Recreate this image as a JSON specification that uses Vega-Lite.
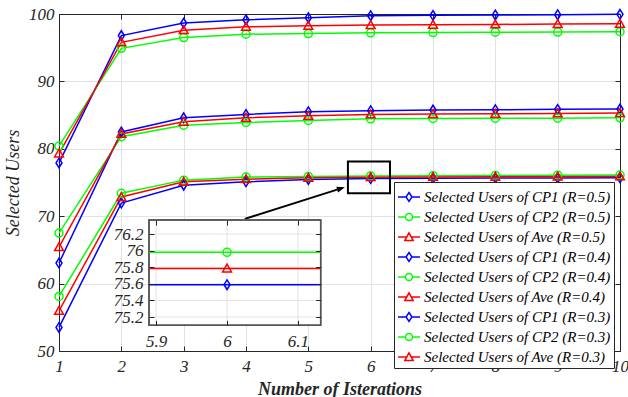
{
  "$schema": "https://vega.github.io/schema/vega-lite/v6.json",
  "width": 561,
  "height": 337,
  "autosize": {"type": "none"},
  "padding": {"left": 59, "top": 14, "right": 8, "bottom": 46},
  "background": "white",
  "config": {
    "view": {"stroke": null},
    "font": "Liberation Serif",
    "axis": {
      "labelFont": "Liberation Serif",
      "labelFontStyle": "italic",
      "labelFontSize": 17,
      "labelColor": "#262626",
      "titleFont": "Liberation Serif",
      "titleColor": "#262626",
      "domainColor": "#262626",
      "domainWidth": 1,
      "tickColor": "#262626",
      "tickSize": -5,
      "gridColor": "#e2e2e2",
      "gridWidth": 1
    }
  },
  "datasets": {
    "users": [
      {"it": 1, "series": "Selected Users of CP1 (R=0.5)", "v": 77.9},
      {"it": 2, "series": "Selected Users of CP1 (R=0.5)", "v": 96.8},
      {"it": 3, "series": "Selected Users of CP1 (R=0.5)", "v": 98.65},
      {"it": 4, "series": "Selected Users of CP1 (R=0.5)", "v": 99.15},
      {"it": 5, "series": "Selected Users of CP1 (R=0.5)", "v": 99.45},
      {"it": 6, "series": "Selected Users of CP1 (R=0.5)", "v": 99.75},
      {"it": 7, "series": "Selected Users of CP1 (R=0.5)", "v": 99.8},
      {"it": 8, "series": "Selected Users of CP1 (R=0.5)", "v": 99.85},
      {"it": 9, "series": "Selected Users of CP1 (R=0.5)", "v": 99.9},
      {"it": 10, "series": "Selected Users of CP1 (R=0.5)", "v": 99.95},
      {"it": 1, "series": "Selected Users of CP2 (R=0.5)", "v": 80.4},
      {"it": 2, "series": "Selected Users of CP2 (R=0.5)", "v": 94.9},
      {"it": 3, "series": "Selected Users of CP2 (R=0.5)", "v": 96.5},
      {"it": 4, "series": "Selected Users of CP2 (R=0.5)", "v": 97.0},
      {"it": 5, "series": "Selected Users of CP2 (R=0.5)", "v": 97.1},
      {"it": 6, "series": "Selected Users of CP2 (R=0.5)", "v": 97.2},
      {"it": 7, "series": "Selected Users of CP2 (R=0.5)", "v": 97.25},
      {"it": 8, "series": "Selected Users of CP2 (R=0.5)", "v": 97.3},
      {"it": 9, "series": "Selected Users of CP2 (R=0.5)", "v": 97.32},
      {"it": 10, "series": "Selected Users of CP2 (R=0.5)", "v": 97.37},
      {"it": 1, "series": "Selected Users of Ave (R=0.5)", "v": 79.3},
      {"it": 2, "series": "Selected Users of Ave (R=0.5)", "v": 95.8},
      {"it": 3, "series": "Selected Users of Ave (R=0.5)", "v": 97.6},
      {"it": 4, "series": "Selected Users of Ave (R=0.5)", "v": 98.1},
      {"it": 5, "series": "Selected Users of Ave (R=0.5)", "v": 98.25},
      {"it": 6, "series": "Selected Users of Ave (R=0.5)", "v": 98.35},
      {"it": 7, "series": "Selected Users of Ave (R=0.5)", "v": 98.4},
      {"it": 8, "series": "Selected Users of Ave (R=0.5)", "v": 98.45},
      {"it": 9, "series": "Selected Users of Ave (R=0.5)", "v": 98.5},
      {"it": 10, "series": "Selected Users of Ave (R=0.5)", "v": 98.55},
      {"it": 1, "series": "Selected Users of CP1 (R=0.4)", "v": 63.05},
      {"it": 2, "series": "Selected Users of CP1 (R=0.4)", "v": 82.5},
      {"it": 3, "series": "Selected Users of CP1 (R=0.4)", "v": 84.6},
      {"it": 4, "series": "Selected Users of CP1 (R=0.4)", "v": 85.1},
      {"it": 5, "series": "Selected Users of CP1 (R=0.4)", "v": 85.5},
      {"it": 6, "series": "Selected Users of CP1 (R=0.4)", "v": 85.65},
      {"it": 7, "series": "Selected Users of CP1 (R=0.4)", "v": 85.75},
      {"it": 8, "series": "Selected Users of CP1 (R=0.4)", "v": 85.8},
      {"it": 9, "series": "Selected Users of CP1 (R=0.4)", "v": 85.85},
      {"it": 10, "series": "Selected Users of CP1 (R=0.4)", "v": 85.9},
      {"it": 1, "series": "Selected Users of CP2 (R=0.4)", "v": 67.5},
      {"it": 2, "series": "Selected Users of CP2 (R=0.4)", "v": 81.8},
      {"it": 3, "series": "Selected Users of CP2 (R=0.4)", "v": 83.5},
      {"it": 4, "series": "Selected Users of CP2 (R=0.4)", "v": 83.9},
      {"it": 5, "series": "Selected Users of CP2 (R=0.4)", "v": 84.2},
      {"it": 6, "series": "Selected Users of CP2 (R=0.4)", "v": 84.45},
      {"it": 7, "series": "Selected Users of CP2 (R=0.4)", "v": 84.5},
      {"it": 8, "series": "Selected Users of CP2 (R=0.4)", "v": 84.55},
      {"it": 9, "series": "Selected Users of CP2 (R=0.4)", "v": 84.55},
      {"it": 10, "series": "Selected Users of CP2 (R=0.4)", "v": 84.6},
      {"it": 1, "series": "Selected Users of Ave (R=0.4)", "v": 65.4},
      {"it": 2, "series": "Selected Users of Ave (R=0.4)", "v": 82.2},
      {"it": 3, "series": "Selected Users of Ave (R=0.4)", "v": 84.0},
      {"it": 4, "series": "Selected Users of Ave (R=0.4)", "v": 84.6},
      {"it": 5, "series": "Selected Users of Ave (R=0.4)", "v": 84.9},
      {"it": 6, "series": "Selected Users of Ave (R=0.4)", "v": 85.1},
      {"it": 7, "series": "Selected Users of Ave (R=0.4)", "v": 85.15},
      {"it": 8, "series": "Selected Users of Ave (R=0.4)", "v": 85.2},
      {"it": 9, "series": "Selected Users of Ave (R=0.4)", "v": 85.25},
      {"it": 10, "series": "Selected Users of Ave (R=0.4)", "v": 85.3},
      {"it": 1, "series": "Selected Users of CP1 (R=0.3)", "v": 53.5},
      {"it": 2, "series": "Selected Users of CP1 (R=0.3)", "v": 71.95},
      {"it": 3, "series": "Selected Users of CP1 (R=0.3)", "v": 74.6},
      {"it": 4, "series": "Selected Users of CP1 (R=0.3)", "v": 75.1},
      {"it": 5, "series": "Selected Users of CP1 (R=0.3)", "v": 75.45},
      {"it": 6, "series": "Selected Users of CP1 (R=0.3)", "v": 75.59},
      {"it": 7, "series": "Selected Users of CP1 (R=0.3)", "v": 75.62},
      {"it": 8, "series": "Selected Users of CP1 (R=0.3)", "v": 75.65},
      {"it": 9, "series": "Selected Users of CP1 (R=0.3)", "v": 75.67},
      {"it": 10, "series": "Selected Users of CP1 (R=0.3)", "v": 75.7},
      {"it": 1, "series": "Selected Users of CP2 (R=0.3)", "v": 58.1},
      {"it": 2, "series": "Selected Users of CP2 (R=0.3)", "v": 73.4},
      {"it": 3, "series": "Selected Users of CP2 (R=0.3)", "v": 75.35},
      {"it": 4, "series": "Selected Users of CP2 (R=0.3)", "v": 75.8},
      {"it": 5, "series": "Selected Users of CP2 (R=0.3)", "v": 75.9},
      {"it": 6, "series": "Selected Users of CP2 (R=0.3)", "v": 75.98},
      {"it": 7, "series": "Selected Users of CP2 (R=0.3)", "v": 76.02},
      {"it": 8, "series": "Selected Users of CP2 (R=0.3)", "v": 76.05},
      {"it": 9, "series": "Selected Users of CP2 (R=0.3)", "v": 76.08},
      {"it": 10, "series": "Selected Users of CP2 (R=0.3)", "v": 76.1},
      {"it": 1, "series": "Selected Users of Ave (R=0.3)", "v": 55.95},
      {"it": 2, "series": "Selected Users of Ave (R=0.3)", "v": 72.85},
      {"it": 3, "series": "Selected Users of Ave (R=0.3)", "v": 75.1},
      {"it": 4, "series": "Selected Users of Ave (R=0.3)", "v": 75.5},
      {"it": 5, "series": "Selected Users of Ave (R=0.3)", "v": 75.7},
      {"it": 6, "series": "Selected Users of Ave (R=0.3)", "v": 75.785},
      {"it": 7, "series": "Selected Users of Ave (R=0.3)", "v": 75.82},
      {"it": 8, "series": "Selected Users of Ave (R=0.3)", "v": 75.85},
      {"it": 9, "series": "Selected Users of Ave (R=0.3)", "v": 75.87},
      {"it": 10, "series": "Selected Users of Ave (R=0.3)", "v": 75.9}
    ]
  },
  "data": {"name": "users"},
  "layer": [
    {
      "layer": [
        {
          "mark": {"type": "line", "strokeWidth": 1.5},
          "encoding": {
            "x": {
              "field": "it", "type": "quantitative",
              "scale": {"domain": [1, 10], "nice": false, "zero": false},
              "axis": {
                "orient": "bottom", "values": [1, 2, 3, 4, 5, 6, 7, 8, 9, 10],
                "grid": true, "labelPadding": 12, "labelFlush": false,
                "title": "Number of Isterations", "titleFontSize": 18,
                "titleFontWeight": "bold", "titleFontStyle": "italic", "titlePadding": 6
              }
            },
            "y": {
              "field": "v", "type": "quantitative",
              "scale": {"domain": [50, 100], "nice": false, "zero": false},
              "axis": {
                "orient": "left", "values": [50, 60, 70, 80, 90, 100],
                "grid": true, "labelPadding": 10, "labelFlush": false,
                "title": "Selected Users", "titleFontSize": 18,
                "titleFontWeight": "normal", "titleFontStyle": "italic", "titlePadding": 6
              }
            },
            "color": {
              "field": "series", "type": "nominal",
              "scale": {
                "domain": [
                  "Selected Users of CP1 (R=0.5)", "Selected Users of CP2 (R=0.5)", "Selected Users of Ave (R=0.5)",
                  "Selected Users of CP1 (R=0.4)", "Selected Users of CP2 (R=0.4)", "Selected Users of Ave (R=0.4)",
                  "Selected Users of CP1 (R=0.3)", "Selected Users of CP2 (R=0.3)", "Selected Users of Ave (R=0.3)"
                ],
                "range": ["#0000ff", "#00ff00", "#ff0000", "#0000ff", "#00ff00", "#ff0000", "#0000ff", "#00ff00", "#ff0000"]
              },
              "legend": null
            }
          }
        },
        {
          "mark": {"type": "point", "filled": false, "strokeWidth": 1.5, "size": 64, "opacity": 1},
          "encoding": {
            "x": {"field": "it", "type": "quantitative", "axis": null},
            "y": {"field": "v", "type": "quantitative", "axis": null},
            "color": {"field": "series", "type": "nominal", "legend": null},
            "shape": {
              "field": "series", "type": "nominal",
              "scale": {
                "domain": [
                  "Selected Users of CP1 (R=0.5)", "Selected Users of CP2 (R=0.5)", "Selected Users of Ave (R=0.5)",
                  "Selected Users of CP1 (R=0.4)", "Selected Users of CP2 (R=0.4)", "Selected Users of Ave (R=0.4)",
                  "Selected Users of CP1 (R=0.3)", "Selected Users of CP2 (R=0.3)", "Selected Users of Ave (R=0.3)"
                ],
                "range": [
                  "M0,-1.2L0.75,0L0,1.2L-0.75,0Z", "M1,0A1,1,0,1,1,-1,0A1,1,0,1,1,1,0Z", "M0,-1.1L1.1,0.85L-1.1,0.85Z",
                  "M0,-1.2L0.75,0L0,1.2L-0.75,0Z", "M1,0A1,1,0,1,1,-1,0A1,1,0,1,1,1,0Z", "M0,-1.1L1.1,0.85L-1.1,0.85Z",
                  "M0,-1.2L0.75,0L0,1.2L-0.75,0Z", "M1,0A1,1,0,1,1,-1,0A1,1,0,1,1,1,0Z", "M0,-1.1L1.1,0.85L-1.1,0.85Z"
                ]
              },
              "legend": null
            }
          }
        },
        {
          "transform": [{"filter": "false"}],
          "mark": {"type": "point", "filled": false, "strokeWidth": 1.5, "size": 484, "opacity": 1},
          "encoding": {
            "color": {
              "field": "series", "type": "nominal",
              "legend": {
                "title": null,
                "orient": "none",
                "legendX": 335,
                "legendY": 168,
                "strokeColor": "#262626",
                "fillColor": "white",
                "padding": 3,
                "rowPadding": -2.8,
                "symbolSize": 484,
                "symbolStrokeWidth": 1.5,
                "symbolOpacity": 1,
                "labelOffset": 3,
                "labelLimit": 300,
                "labelFont": "Liberation Serif",
                "labelFontStyle": "italic",
                "labelFontSize": 15,
                "labelColor": "#000000"
              }
            },
            "shape": {
              "field": "series", "type": "nominal",
              "scale": {
                "domain": [
                  "Selected Users of CP1 (R=0.5)", "Selected Users of CP2 (R=0.5)", "Selected Users of Ave (R=0.5)",
                  "Selected Users of CP1 (R=0.4)", "Selected Users of CP2 (R=0.4)", "Selected Users of Ave (R=0.4)",
                  "Selected Users of CP1 (R=0.3)", "Selected Users of CP2 (R=0.3)", "Selected Users of Ave (R=0.3)"
                ],
                "range": [
                  "M-1,0L-0.27,0M0.27,0L1,0M0,-0.41L0.27,0L0,0.41L-0.27,0Z",
                  "M-1,0L-0.32,0M0.32,0L1,0M0.32,0A0.32,0.32,0,1,1,-0.32,0A0.32,0.32,0,1,1,0.32,0Z",
                  "M-1,0L-0.22,0M0.22,0L1,0M0,-0.38L0.38,0.32L-0.38,0.32Z",
                  "M-1,0L-0.27,0M0.27,0L1,0M0,-0.41L0.27,0L0,0.41L-0.27,0Z",
                  "M-1,0L-0.32,0M0.32,0L1,0M0.32,0A0.32,0.32,0,1,1,-0.32,0A0.32,0.32,0,1,1,0.32,0Z",
                  "M-1,0L-0.22,0M0.22,0L1,0M0,-0.38L0.38,0.32L-0.38,0.32Z",
                  "M-1,0L-0.27,0M0.27,0L1,0M0,-0.41L0.27,0L0,0.41L-0.27,0Z",
                  "M-1,0L-0.32,0M0.32,0L1,0M0.32,0A0.32,0.32,0,1,1,-0.32,0A0.32,0.32,0,1,1,0.32,0Z",
                  "M-1,0L-0.22,0M0.22,0L1,0M0,-0.38L0.38,0.32L-0.38,0.32Z"
                ]
              },
              "legend": {
                "title": null,
                "orient": "none",
                "legendX": 335,
                "legendY": 168,
                "strokeColor": "#262626",
                "fillColor": "white",
                "padding": 3,
                "rowPadding": -2.8,
                "symbolSize": 484,
                "symbolStrokeWidth": 1.5,
                "symbolOpacity": 1,
                "labelOffset": 3,
                "labelLimit": 300,
                "labelFont": "Liberation Serif",
                "labelFontStyle": "italic",
                "labelFontSize": 15,
                "labelColor": "#000000"
              }
            }
          }
        },
        {
          "data": {"values": [{}]},
          "mark": {"type": "rect", "fill": null, "fillOpacity": 0, "stroke": "#000000", "strokeWidth": 2},
          "encoding": {
            "x": {"datum": 5.635, "type": "quantitative", "axis": null},
            "x2": {"datum": 6.31},
            "y": {"datum": 73.4, "type": "quantitative", "axis": null},
            "y2": {"datum": 78.1}
          }
        },
        {
          "data": {"values": [{}]},
          "mark": {"type": "rule", "stroke": "#000000", "strokeWidth": 2},
          "encoding": {
            "x": {
              "datum": 3.98, "type": "quantitative",
              "axis": {"orient": "top", "values": [1, 2, 3, 4, 5, 6, 7, 8, 9, 10], "labels": false, "grid": false, "title": null}
            },
            "x2": {"datum": 5.55},
            "y": {
              "datum": 69.6, "type": "quantitative",
              "axis": {"orient": "right", "values": [50, 60, 70, 80, 90, 100], "labels": false, "grid": false, "title": null}
            },
            "y2": {"datum": 74.2}
          }
        },
        {
          "data": {"values": [{}]},
          "mark": {"type": "point", "shape": "M0,0L-2,-0.75L-2,0.75Z", "filled": true, "fill": "#000000", "size": 64, "angle": 342.5, "opacity": 1},
          "encoding": {
            "x": {"datum": 5.586, "type": "quantitative", "axis": null},
            "y": {"datum": 74.3, "type": "quantitative", "axis": null}
          }
        }
      ],
      "resolve": {
        "scale": {"shape": "independent"},
        "axis": {"x": "independent", "y": "independent"},
        "legend": {"color": "independent", "shape": "independent"}
      }
    },
    {
      "layer": [
        {
          "data": {"values": [{}]},
          "mark": {"type": "rect", "fill": "white", "stroke": "#555555", "strokeWidth": 1.5},
          "encoding": {
            "x": {
              "datum": 5.89, "type": "quantitative",
              "scale": {"domain": [5.89, 6.132], "range": [90, 261.7], "nice": false, "zero": false},
              "axis": {
                "orient": "bottom", "offset": -25.7, "values": [5.9, 6, 6.1], "format": "~g",
                "labelOverlap": false, "labelBound": false,
                "domain": false, "grid": false, "labelPadding": 13, "title": null, "zindex": 1
              }
            },
            "x2": {"datum": 6.132},
            "y": {
              "datum": 75.1, "type": "quantitative",
              "scale": {"domain": [75.1, 76.37], "range": [311.3, 206], "nice": false, "zero": false},
              "axis": {
                "orient": "left", "offset": -90, "values": [75.2, 75.4, 75.6, 75.8, 76, 76.2], "format": "~g",
                "labelOverlap": false, "labelBound": false,
                "domain": false, "grid": false, "labelPadding": 11, "title": null, "zindex": 1
              }
            },
            "y2": {"datum": 76.37}
          }
        },
        {
          "data": {"values": [{"tick": 5.9}, {"tick": 6}, {"tick": 6.1}]},
          "mark": {"type": "rule", "stroke": "#e2e2e2", "strokeWidth": 1},
          "encoding": {
            "x": {"field": "tick", "type": "quantitative", "axis": null},
            "y": {"datum": 75.1, "type": "quantitative", "axis": null},
            "y2": {"datum": 76.37}
          }
        },
        {
          "data": {"values": [{"tick": 75.2}, {"tick": 75.4}, {"tick": 75.6}, {"tick": 75.8}, {"tick": 76}, {"tick": 76.2}]},
          "mark": {"type": "rule", "stroke": "#e2e2e2", "strokeWidth": 1},
          "encoding": {
            "y": {"field": "tick", "type": "quantitative", "axis": null},
            "x": {"datum": 5.89, "type": "quantitative", "axis": null},
            "x2": {"datum": 6.132}
          }
        },
        {
          "data": {"values": [{}]},
          "mark": {"type": "rect", "fill": null, "fillOpacity": 0, "stroke": "#555555", "strokeWidth": 1.5},
          "encoding": {
            "x": {"datum": 5.89, "type": "quantitative", "axis": null},
            "x2": {"datum": 6.132},
            "y": {"datum": 75.1, "type": "quantitative", "axis": null},
            "y2": {"datum": 76.37}
          }
        },
        {
          "transform": [{"filter": "datum.it == 6 && indexof(datum.series, 'R=0.3') >= 0"}],
          "mark": {"type": "rule", "strokeWidth": 1.5},
          "encoding": {
            "y": {
              "field": "v", "type": "quantitative",
              "axis": {"orient": "right", "offset": -299.3, "values": [75.2, 75.4, 75.6, 75.8, 76, 76.2], "labels": false, "domain": false, "grid": false, "title": null, "zindex": 1}
            },
            "x": {
              "datum": 5.89, "type": "quantitative",
              "axis": {"orient": "top", "offset": -206, "values": [5.9, 6, 6.1], "labels": false, "domain": false, "grid": false, "title": null, "zindex": 1}
            },
            "x2": {"datum": 6.132},
            "color": {"field": "series", "type": "nominal", "legend": null}
          }
        },
        {
          "transform": [{"filter": "datum.it == 6 && indexof(datum.series, 'R=0.3') >= 0"}],
          "mark": {"type": "point", "filled": false, "strokeWidth": 1.5, "size": 64, "opacity": 1},
          "encoding": {
            "x": {"field": "it", "type": "quantitative", "axis": null},
            "y": {"field": "v", "type": "quantitative", "axis": null},
            "color": {"field": "series", "type": "nominal", "legend": null},
            "shape": {
              "field": "series", "type": "nominal",
              "scale": {
                "domain": [
                  "Selected Users of CP1 (R=0.5)", "Selected Users of CP2 (R=0.5)", "Selected Users of Ave (R=0.5)",
                  "Selected Users of CP1 (R=0.4)", "Selected Users of CP2 (R=0.4)", "Selected Users of Ave (R=0.4)",
                  "Selected Users of CP1 (R=0.3)", "Selected Users of CP2 (R=0.3)", "Selected Users of Ave (R=0.3)"
                ],
                "range": [
                  "M0,-1.2L0.75,0L0,1.2L-0.75,0Z", "M1,0A1,1,0,1,1,-1,0A1,1,0,1,1,1,0Z", "M0,-1.1L1.1,0.85L-1.1,0.85Z",
                  "M0,-1.2L0.75,0L0,1.2L-0.75,0Z", "M1,0A1,1,0,1,1,-1,0A1,1,0,1,1,1,0Z", "M0,-1.1L1.1,0.85L-1.1,0.85Z",
                  "M0,-1.2L0.75,0L0,1.2L-0.75,0Z", "M1,0A1,1,0,1,1,-1,0A1,1,0,1,1,1,0Z", "M0,-1.1L1.1,0.85L-1.1,0.85Z"
                ]
              },
              "legend": null
            }
          }
        }
      ],
      "resolve": {
        "axis": {"x": "independent", "y": "independent"},
        "legend": {"color": "independent", "shape": "independent"}
      }
    }
  ],
  "resolve": {
    "scale": {"x": "independent", "y": "independent", "shape": "independent"},
    "legend": {"color": "independent", "shape": "independent"}
  }
}
